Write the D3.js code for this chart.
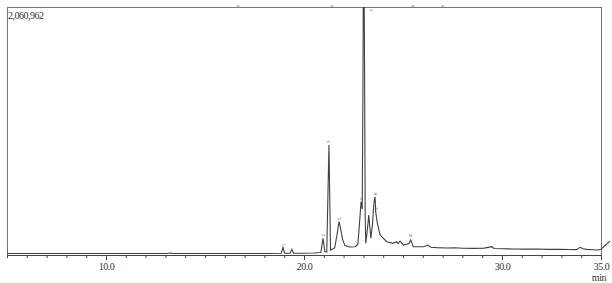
<!DOCTYPE html>
<html>
<head>
<meta charset="utf-8">
<script src="https://cdn.jsdelivr.net/npm/d3@7"></script>
<style>
  body { margin: 0; background: #fff; }
  text { font-family: "Liberation Serif", "Times New Roman", serif; fill: #333; }
</style>
</head>
<body>
<script>
// Width and height
var w = 612;
var h = 283;
var plotLeft = 7, plotRight = 601, plotTop = 7, plotBottom = 255;

// Chromatogram trace (retention time in min, intensity in counts x1000)
var times = [5.0, 6.0, 7.0, 8.0, 9.0, 10.0, 11.0, 12.0, 13.1, 13.25, 13.4, 14.5, 15.5, 16.5, 17.5, 18.3, 18.85,
  18.94, 19.02, 19.3, 19.39, 19.47, 20.0, 20.5, 20.85, 20.96, 21.05, 21.15, 21.26, 21.34, 21.41, 21.55, 21.65,
  21.77, 21.85, 21.95, 22.07, 22.3, 22.58, 22.72, 22.82, 22.88, 22.94, 22.98, 23.0, 23.03, 23.06, 23.09, 23.12, 23.2,
  23.27, 23.33, 23.38, 23.46, 23.53, 23.59, 23.62, 23.7, 23.84, 23.92, 24.18, 24.49, 24.68, 24.76, 24.85, 25.02,
  25.3, 25.39, 25.47, 25.52, 26.03, 26.26, 26.4, 26.7, 27.2, 27.6, 28.03, 28.6, 29.1, 29.48, 29.6, 30.0, 30.56,
  31.2, 31.8, 32.26, 32.9, 33.4, 33.77, 33.94, 34.1, 34.28, 34.6, 34.85, 35.0, 35.45];
var counts = [12, 13, 12, 13, 12, 13, 12, 13, 13, 17, 13, 12, 13, 12, 13, 13, 14,
  64, 14, 14, 47, 14, 15, 16, 20, 139, 28, 24, 914, 40, 46, 60, 150,
  277, 220, 130, 78, 66, 69, 90, 300, 443, 380, 1500, 2400, 2400, 1500, 320, 97, 210,
  332, 220, 139, 260, 430, 484, 360, 266, 170, 152, 110, 97, 110, 95, 116, 83,
  95, 125, 90, 69, 69, 83, 64, 61, 58, 60, 56, 55, 57, 69, 54, 52, 50,
  49, 50, 47, 47, 46, 45, 64, 52, 47, 44, 42, 48, 116];

// Peak labels (tiny rotated numbers)
var peakTimes = [18.94, 20.96, 21.26, 21.77, 22.88, 23.59, 23.66, 25.39];
var peakNames = ["1", "2", "3", "5", "6", "8", "9", "10"];
var topMarkTimes = [16.67, 21.41, 25.5, 27.0];

// Axis ticks
var majorTicks = [10, 20, 30, 35];
var scaleMax = 2060962;

// Scales
var xScale = d3.scaleLinear().domain([5, 35]).range([plotLeft, plotRight]);
var yScale = d3.scaleLinear().domain([0, scaleMax / 1000]).range([plotBottom, plotTop]);

var svg = d3.select("body").append("svg")
  .attr("width", w)
  .attr("height", h);

svg.append("defs").append("clipPath").attr("id", "clip")
  .append("rect").attr("x", 0).attr("y", plotTop).attr("width", w).attr("height", h - plotTop);

// Frame
svg.append("rect")
  .attr("x", plotLeft).attr("y", plotTop)
  .attr("width", plotRight - plotLeft).attr("height", plotBottom - plotTop)
  .attr("fill", "none").attr("stroke", "#777").attr("stroke-width", 1)
  .attr("shape-rendering", "crispEdges");

// Trace
var data = times.map(function(t, i) { return [t, counts[i]]; });
var line = d3.line()
  .x(function(d) { return xScale(d[0]); })
  .y(function(d) { return yScale(d[1]); });

svg.append("path")
  .datum(data)
  .attr("clip-path", "url(#clip)")
  .attr("d", line)
  .attr("fill", "none")
  .attr("stroke", "#404040")
  .attr("stroke-width", 1.1);

// Peak labels
svg.selectAll(".plabel")
  .data(peakTimes)
  .enter().append("text")
  .attr("class", "plabel")
  .attr("transform", function(d, i) {
    var v = d3.max(data.filter(function(p) { return Math.abs(p[0] - d) < 0.05; }), function(p) { return p[1]; });
    return "translate(" + (xScale(d) + 1.5) + "," + (yScale(v) - 2) + ") rotate(-90)";
  })
  .style("font-size", "4.5px")
  .text(function(d, i) { return peakNames[i]; });

svg.append("text")
  .attr("transform", "translate(" + (xScale(23.01) + 9) + ",9) rotate(-90)")
  .attr("text-anchor", "end")
  .style("font-size", "5px")
  .text("7");

svg.selectAll(".tmark")
  .data(topMarkTimes)
  .enter().append("line")
  .attr("x1", function(d) { return xScale(d) - 1.5; })
  .attr("x2", function(d) { return xScale(d) + 1.5; })
  .attr("y1", 6).attr("y2", 6)
  .attr("stroke", "#888").attr("stroke-width", 1);

// X axis
var xAxis = d3.axisBottom(xScale)
  .tickValues(d3.range(5, 36, 1))
  .tickSize(3)
  .tickFormat(function(d) { return majorTicks.indexOf(d) >= 0 ? d3.format(".1f")(d) : ""; });

var gx = svg.append("g")
  .attr("transform", "translate(0," + plotBottom + ")")
  .call(xAxis);
gx.select(".domain").attr("stroke", "#444");
gx.selectAll(".tick line").attr("stroke", "#444")
  .attr("y2", function(d) { return majorTicks.indexOf(d) >= 0 ? 5 : 3; });
gx.selectAll(".tick text")
  .attr("y", 8)
  .style("font-family", "Liberation Serif")
  .style("font-size", "10px")
  .style("letter-spacing", "-0.5px")
  .attr("fill", "#333");

svg.append("text")
  .attr("x", 599).attr("y", 281)
  .attr("text-anchor", "middle")
  .style("font-size", "10px")
  .style("letter-spacing", "-0.4px")
  .text("min");

svg.append("text")
  .attr("x", 8).attr("y", 19)
  .style("font-size", "10px")
  .style("letter-spacing", "-0.5px")
  .text(d3.format(",")(scaleMax));
</script>
</body>
</html>
